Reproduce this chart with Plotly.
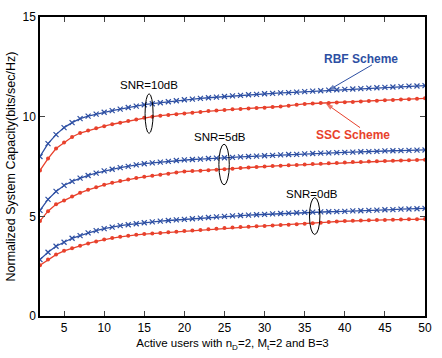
import plotly.graph_objects as go

users = list(range(2, 51))

rbf_10db = [8.0, 8.65, 9.1, 9.45, 9.7, 9.9, 10.03, 10.13, 10.22, 10.3, 10.38, 10.46, 10.53, 10.6, 10.65,
            10.7, 10.75, 10.8, 10.85, 10.88, 10.92, 10.95, 10.98, 11.01, 11.04, 11.07, 11.1, 11.12, 11.15,
            11.17, 11.19, 11.21, 11.23, 11.26, 11.28, 11.3, 11.33, 11.35, 11.37, 11.39, 11.41, 11.43, 11.45,
            11.47, 11.49, 11.51, 11.53, 11.54, 11.56]
ssc_10db = [7.3, 7.9, 8.4, 8.7, 8.98, 9.18, 9.3, 9.42, 9.52, 9.62, 9.7, 9.78, 9.86, 9.95, 10.0,
            10.05, 10.08, 10.12, 10.16, 10.2, 10.24, 10.28, 10.31, 10.34, 10.37, 10.39, 10.41, 10.43, 10.45,
            10.48, 10.51, 10.55, 10.6, 10.64, 10.66, 10.68, 10.69, 10.71, 10.72, 10.74, 10.76, 10.78, 10.8,
            10.82, 10.84, 10.86, 10.88, 10.9, 10.92]
rbf_5db = [5.3, 5.85, 6.25, 6.55, 6.75, 6.92, 7.05, 7.17, 7.28, 7.36, 7.44, 7.51, 7.58, 7.64, 7.68,
           7.72, 7.76, 7.8, 7.83, 7.85, 7.87, 7.9, 7.92, 7.94, 7.96, 7.98, 8.0, 8.02, 8.04,
           8.06, 8.08, 8.1, 8.11, 8.13, 8.15, 8.17, 8.18, 8.2, 8.21, 8.22, 8.24, 8.25, 8.26,
           8.28, 8.29, 8.3, 8.31, 8.32, 8.33]
ssc_5db = [4.77, 5.26, 5.6, 5.8, 6.0, 6.18, 6.33, 6.46, 6.58, 6.68, 6.77, 6.85, 6.92, 6.98, 7.04,
           7.09, 7.14, 7.2, 7.25, 7.27, 7.29, 7.31, 7.34, 7.36, 7.39, 7.42, 7.45, 7.48, 7.5,
           7.52, 7.54, 7.56, 7.58, 7.6, 7.62, 7.64, 7.66, 7.68, 7.7, 7.72, 7.73, 7.75, 7.76,
           7.78, 7.79, 7.8, 7.81, 7.83, 7.84]
rbf_0db = [2.83, 3.2, 3.5, 3.7, 3.9, 4.03, 4.17, 4.28, 4.38, 4.46, 4.53, 4.58, 4.63, 4.68, 4.72,
           4.76, 4.79, 4.82, 4.85, 4.88, 4.91, 4.94, 4.97, 5.0, 5.02, 5.04, 5.06, 5.08, 5.1,
           5.12, 5.14, 5.16, 5.18, 5.2, 5.21, 5.22, 5.23, 5.24, 5.25, 5.27, 5.28, 5.3, 5.31,
           5.33, 5.34, 5.36, 5.37, 5.38, 5.4]
ssc_0db = [2.55, 2.83, 3.08, 3.27, 3.4, 3.52, 3.64, 3.74, 3.84, 3.91, 3.97, 4.03, 4.07, 4.11, 4.14,
           4.17, 4.2, 4.23, 4.26, 4.29, 4.32, 4.35, 4.38, 4.41, 4.44, 4.46, 4.48, 4.5, 4.52,
           4.54, 4.56, 4.58, 4.6, 4.63, 4.65, 4.68, 4.71, 4.74, 4.76, 4.78, 4.79, 4.8, 4.81,
           4.82, 4.83, 4.84, 4.85, 4.85, 4.86]

x_ticks = [5, 10, 15, 20, 25, 30, 35, 40, 45, 50]
y_ticks = [0, 5, 10, 15]

BLUE = "#2d4fa3"
RED = "#e8412c"
FONT = "Liberation Sans, Arial, sans-serif"

fig = go.Figure()
for rbf, ssc in [(rbf_10db, ssc_10db), (rbf_5db, ssc_5db), (rbf_0db, ssc_0db)]:
    fig.add_trace(go.Scatter(x=users, y=rbf, mode="lines+markers",
                             line=dict(color=BLUE, width=1.3),
                             marker=dict(symbol="x-thin", size=5, color=BLUE,
                                         line=dict(color=BLUE, width=1.2)),
                             showlegend=False))
    fig.add_trace(go.Scatter(x=users, y=ssc, mode="lines+markers",
                             line=dict(color=RED, width=1.3),
                             marker=dict(symbol="circle", size=4, color=RED),
                             showlegend=False))

# ellipses grouping the SNR curves
ellipses = [(15.1, 16.1, 9.16, 11.15), (24.3, 25.6, 6.58, 8.62), (35.6, 36.9, 4.09, 5.94)]
for x0, x1, y0, y1 in ellipses:
    fig.add_shape(type="circle", xref="x", yref="y", x0=x0, x1=x1, y0=y0, y1=y1,
                  line=dict(color="black", width=1))

labels = [("SNR=10dB", 15.6, 11.6), ("SNR=5dB", 24.5, 9.0), ("SNR=0dB", 35.9, 6.14)]
for txt, x, y in labels:
    fig.add_annotation(x=x, y=y, text=txt, showarrow=False,
                       font=dict(family=FONT, size=11.5, color="black"))

fig.add_annotation(x=42.0, y=12.9, text="<b>RBF Scheme</b>", showarrow=False,
                   font=dict(family=FONT, size=12, color=BLUE))
fig.add_annotation(x=41.05, y=9.1, text="<b>SSC Scheme</b>", showarrow=False,
                   font=dict(family=FONT, size=12, color=RED))

# pointer arrows (tail -> tip) drawn as line traces with arrow-head markers
arrows = [([43.4, 37.86], [12.6, 11.3], BLUE), ([41.9, 37.6], [9.45, 10.67], RED)]
for ax_, ay_, col in arrows:
    fig.add_trace(go.Scatter(x=ax_, y=ay_, mode="lines+markers",
                             line=dict(color=col, width=1),
                             marker=dict(symbol=["circle", "arrow"], size=[0, 8], color=col,
                                         angleref="previous", line=dict(width=0)),
                             showlegend=False, hoverinfo="skip"))

fig.update_layout(
    width=442, height=358,
    margin=dict(l=40, r=10, t=14, b=36),
    paper_bgcolor="white", plot_bgcolor="white",
    font=dict(family=FONT, size=12, color="black"),
    xaxis=dict(range=[2, 50], tickvals=x_ticks, ticks="inside", ticklen=5,
               showline=True, linecolor="black", linewidth=1.5, mirror="ticks",
               showgrid=False, zeroline=False, tickfont=dict(size=12),
               title=dict(text="Active users with n<sub>D</sub>=2, M<sub>t</sub>=2 and B=3",
                          font=dict(size=11.5), standoff=5)),
    yaxis=dict(range=[0, 15], tickvals=y_ticks, ticks="inside", ticklen=5,
               showline=True, linecolor="black", linewidth=1.5, mirror="ticks",
               showgrid=False, zeroline=False, tickfont=dict(size=12),
               title=dict(text="Normalized System Capacity(bits/sec/Hz)",
                          font=dict(size=12.5), standoff=4)),
)

fig.write_html("out.html")
